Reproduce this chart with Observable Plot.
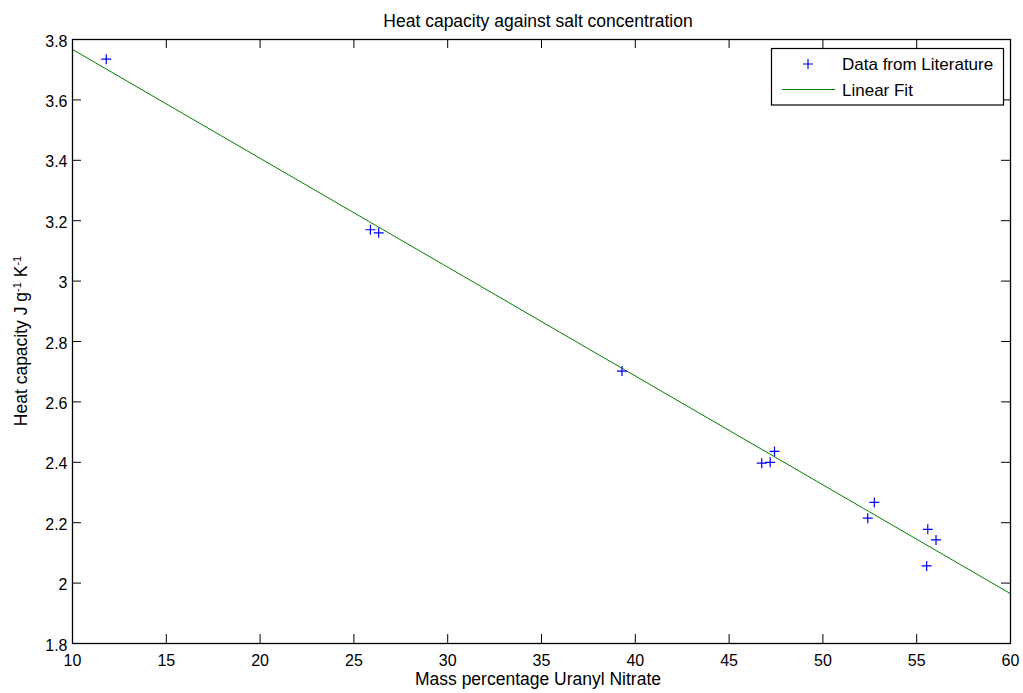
<!DOCTYPE html>
<html>
<head>
<meta charset="utf-8">
<script src="https://cdn.jsdelivr.net/npm/d3@7"></script>
<script src="https://cdn.jsdelivr.net/npm/@observablehq/plot@0.6"></script>
<style>
  body { margin: 0; background: #fff; }
  #chart { position: relative; width: 1023px; height: 693px; }
  #chart svg { font-family: "Liberation Sans", Arial, sans-serif; }
</style>
</head>
<body>
<div id="chart"></div>
<script>
// Literature measurements: mass % uranyl nitrate vs heat capacity (J g^-1 K^-1)
const massPct = [11.8, 25.88, 26.32, 39.29, 46.74, 47.19, 47.42, 52.39, 52.74, 55.53, 55.59, 56.03];
const heatCap = [3.735, 3.170, 3.160, 2.702, 2.397, 2.400, 2.436, 2.215, 2.267, 2.057, 2.178, 2.143];

// Linear fit evaluated at the ends of the x range
const fitX = [10, 60];
const fitY = [3.767, 1.965];

// Axis ticks and their labels
const xTicks = [10, 15, 20, 25, 30, 35, 40, 45, 50, 55, 60];
const xTickLabels = ["10", "15", "20", "25", "30", "35", "40", "45", "50", "55", "60"];
const yTicks = [1.8, 2.0, 2.2, 2.4, 2.6, 2.8, 3.0, 3.2, 3.4, 3.6, 3.8];
const yTickLabels = ["1.8", "2", "2.2", "2.4", "2.6", "2.8", "3", "3.2", "3.4", "3.6", "3.8"];

const titleText = "Heat capacity against salt concentration";
const xLabelText = "Mass percentage Uranyl Nitrate";
const legendLabels = ["Data from Literature", "Linear Fit"];

const W = 1023, H = 693;
const mL = 72, mR = 13, mT = 39, mB = 50;
const fw = W - mL - mR, fh = H - mT - mB;
const tickLen = 9;

const points = massPct.map((x, i) => ({x, y: heatCap[i]}));
const fit = fitX.map((x, i) => ({x, y: fitY[i]}));

// thin "+" marker
const plusSymbol = {
  draw(context, size) {
    const r = Math.sqrt(size / Math.PI);
    context.moveTo(-r, 0); context.lineTo(r, 0);
    context.moveTo(0, -r); context.lineTo(0, r);
  }
};

const fmtX = d => xTickLabels[xTicks.findIndex(t => Math.abs(t - d) < 1e-9)];
const fmtY = d => yTickLabels[yTicks.findIndex(t => Math.abs(t - d) < 1e-9)];

const chart = Plot.plot({
  width: W, height: H,
  marginLeft: mL, marginRight: mR, marginTop: mT, marginBottom: mB,
  style: {fontSize: "16px", fontFamily: "'Liberation Sans', Arial, sans-serif", color: "#000", background: "#fff"},
  x: {domain: [10, 60], ticks: xTicks},
  y: {domain: [1.8, 3.8], ticks: yTicks},
  marks: [
    Plot.axisX(xTicks, {anchor: "bottom", tickSize: 0, tickPadding: 11, tickFormat: fmtX, label: null, fill: "#000"}),
    Plot.axisY(yTicks, {anchor: "left", tickSize: 0, tickPadding: 5, dy: 2, tickFormat: fmtY, label: null, fill: "#000"}),
    // inward ticks on all four sides
    Plot.tickX(xTicks, {x: d => d, insetTop: fh - tickLen, stroke: "#000"}),
    Plot.tickX(xTicks, {x: d => d, insetBottom: fh - tickLen, stroke: "#000"}),
    Plot.tickY(yTicks, {y: d => d, insetRight: fw - tickLen, stroke: "#000"}),
    Plot.tickY(yTicks, {y: d => d, insetLeft: fw - tickLen, stroke: "#000"}),
    Plot.line(fit, {x: "x", y: "y", stroke: "#008000", strokeWidth: 1}),
    Plot.dot(points, {x: "x", y: "y", symbol: plusSymbol, r: 5, stroke: "#0000ff", strokeWidth: 1.2, fill: "none"}),
    Plot.frame({stroke: "#000", strokeWidth: 1.3})
  ]
});

document.getElementById("chart").appendChild(chart);

const svg = d3.select(chart);
const font = "'Liberation Sans', Arial, sans-serif";

// title
svg.append("text")
  .attr("x", mL + fw / 2 - 3).attr("y", 26.5)
  .attr("text-anchor", "middle").attr("font-size", 17.5).attr("font-family", font)
  .attr("fill", "#000").text(titleText);

// x axis label
svg.append("text")
  .attr("x", mL + fw / 2 - 3).attr("y", 685)
  .attr("text-anchor", "middle").attr("font-size", 17.5).attr("font-family", font)
  .attr("fill", "#000").text(xLabelText);

// y axis label with superscripts
const yl = svg.append("text")
  .attr("transform", `translate(27,${mT + fh / 2}) rotate(-90)`)
  .attr("text-anchor", "middle").attr("font-size", 17.5).attr("font-family", font)
  .attr("fill", "#000");
yl.append("tspan").text("Heat capacity J g");
yl.append("tspan").attr("baseline-shift", "super").attr("font-size", 11).text("-1");
yl.append("tspan").text(" K");
yl.append("tspan").attr("baseline-shift", "super").attr("font-size", 11).text("-1");

// legend
const lg = svg.append("g").attr("text-anchor", "start");
lg.append("rect")
  .attr("x", 771.5).attr("y", 48.5).attr("width", 232).attr("height", 56.5)
  .attr("fill", "#fff").attr("stroke", "#000").attr("stroke-width", 1.2);
lg.append("path")
  .attr("d", "M803,64H813M808,59V69")
  .attr("stroke", "#0000ff").attr("stroke-width", 1.2).attr("fill", "none");
lg.append("line")
  .attr("x1", 782).attr("x2", 835).attr("y1", 89.5).attr("y2", 89.5)
  .attr("stroke", "#008000").attr("stroke-width", 1);
lg.append("text")
  .attr("x", 842).attr("y", 70).attr("font-size", 17).attr("font-family", font)
  .attr("text-anchor", "start").attr("fill", "#000").text(legendLabels[0]);
lg.append("text")
  .attr("x", 842).attr("y", 95.5).attr("font-size", 17).attr("font-family", font)
  .attr("text-anchor", "start").attr("fill", "#000").text(legendLabels[1]);
</script>
</body>
</html>
